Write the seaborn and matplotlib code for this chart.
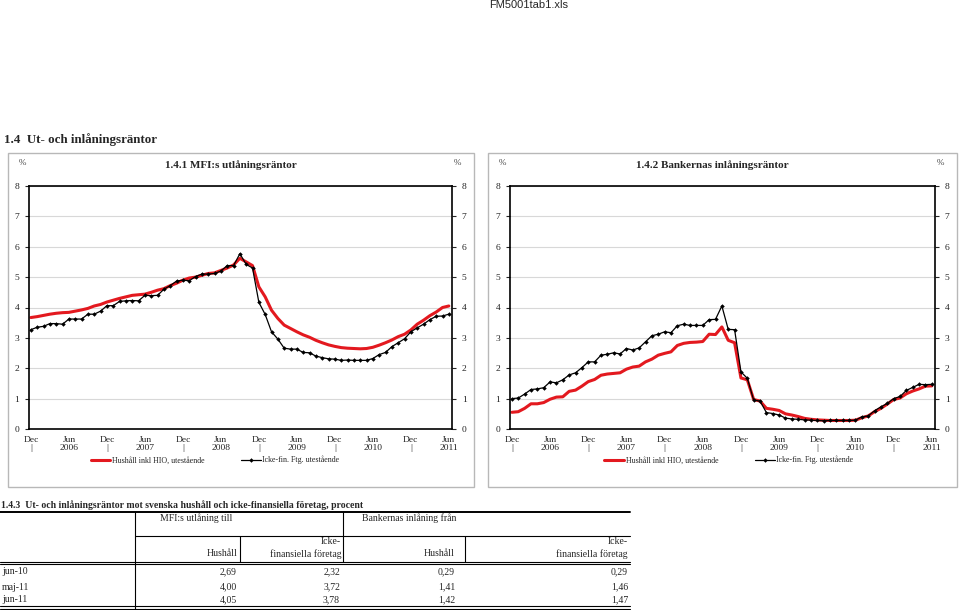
import matplotlib
matplotlib.use("Agg")
import matplotlib.pyplot as plt
import seaborn as sns
import pandas as pd
import numpy as np
from matplotlib.lines import Line2D
from matplotlib.patches import Rectangle

# ---------------- data ----------------
months = pd.date_range("2005-12-01", "2011-06-01", freq="MS")  # 67 months

lend_household = [3.67, 3.70, 3.74, 3.78, 3.81, 3.83, 3.84, 3.88, 3.92, 3.97,
                  4.05, 4.10, 4.18, 4.24, 4.30, 4.35, 4.40, 4.42, 4.44, 4.50,
                  4.57, 4.62, 4.72, 4.80, 4.90, 4.97, 5.00, 5.06, 5.12, 5.14,
                  5.22, 5.30, 5.40, 5.62, 5.50, 5.38, 4.68, 4.35, 3.91, 3.64,
                  3.42, 3.31, 3.20, 3.10, 3.02, 2.92, 2.84, 2.77, 2.72, 2.68,
                  2.66, 2.65, 2.64, 2.65, 2.69, 2.76, 2.84, 2.93, 3.04, 3.12,
                  3.26, 3.45, 3.58, 3.73, 3.85, 4.00, 4.05]
lend_firms = [3.27, 3.35, 3.38, 3.47, 3.47, 3.45, 3.62, 3.62, 3.62, 3.78,
              3.78, 3.88, 4.06, 4.06, 4.20, 4.22, 4.23, 4.22, 4.40, 4.39,
              4.40, 4.60, 4.72, 4.87, 4.90, 4.88, 5.02, 5.10, 5.10, 5.12,
              5.20, 5.38, 5.38, 5.77, 5.42, 5.30, 4.17, 3.77, 3.20, 2.96,
              2.66, 2.63, 2.63, 2.52, 2.51, 2.40, 2.35, 2.31, 2.30, 2.26,
              2.27, 2.26, 2.26, 2.26, 2.32, 2.45, 2.52, 2.71, 2.84, 2.97,
              3.20, 3.33, 3.45, 3.60, 3.71, 3.72, 3.78]
dep_household = [0.55, 0.57, 0.68, 0.83, 0.83, 0.87, 0.98, 1.05, 1.06, 1.24,
                 1.28, 1.41, 1.56, 1.63, 1.77, 1.81, 1.83, 1.85, 1.97, 2.04,
                 2.07, 2.21, 2.30, 2.43, 2.49, 2.54, 2.75, 2.82, 2.85, 2.86,
                 2.88, 3.12, 3.11, 3.36, 2.92, 2.84, 1.68, 1.62, 0.97, 0.92,
                 0.68, 0.65, 0.61, 0.50, 0.46, 0.41, 0.35, 0.32, 0.30, 0.29,
                 0.28, 0.28, 0.28, 0.28, 0.29, 0.37, 0.43, 0.57, 0.68, 0.82,
                 0.97, 1.02, 1.16, 1.25, 1.32, 1.41, 1.42]
dep_firms = [1.00, 1.02, 1.15, 1.30, 1.32, 1.36, 1.55, 1.52, 1.62, 1.78,
             1.85, 2.02, 2.21, 2.21, 2.43, 2.46, 2.51, 2.47, 2.65, 2.60,
             2.67, 2.87, 3.07, 3.12, 3.20, 3.17, 3.40, 3.45, 3.41, 3.41,
             3.41, 3.60, 3.61, 4.05, 3.28, 3.27, 1.88, 1.67, 0.95, 0.92,
             0.54, 0.51, 0.46, 0.36, 0.33, 0.32, 0.30, 0.29, 0.28, 0.27,
             0.28, 0.28, 0.28, 0.28, 0.29, 0.40, 0.43, 0.60, 0.73, 0.84,
             1.00, 1.07, 1.27, 1.37, 1.47, 1.46, 1.47]

x_tick_labels = ["Dec\n|", "Jun\n2006", "Dec\n|", "Jun\n2007", "Dec\n|", "Jun\n2008",
                 "Dec\n|", "Jun\n2009", "Dec\n|", "Jun\n2010", "Dec\n|", "Jun\n2011"]
y_ticks = [0, 1, 2, 3, 4, 5, 6, 7, 8]

series_red = "Hushåll inkl HIO, utestående"
series_black = "Icke-fin. Ftg. utestående"

table_rows = ["jun-10", "maj-11", "jun-11"]
tab_mfi_hush = ["2,69", "4,00", "4,05"]
tab_mfi_icke = ["2,32", "3,72", "3,78"]
tab_bank_hush = ["0,29", "1,41", "1,42"]
tab_bank_icke = ["0,29", "1,46", "1,47"]

# ---------------- style ----------------
sns.set_style("white")
plt.rcParams['font.family'] = ['Liberation Serif', 'DejaVu Serif']

W, H = 960, 610
fig = plt.figure(figsize=(9.6, 6.1), dpi=100)


def fx(px):
    return px / W


def fy(py):
    return 1 - py / H


RED = "#e3191f"
TXT = "#222222"

idx = np.arange(len(months))


def panel(box, axrect, title, title_x, red, black, legend_cx):
    bx0, by0, bx1, by1 = box
    fig.add_artist(Rectangle((fx(bx0), fy(by1)), (bx1 - bx0) / W, (by1 - by0) / H,
                             transform=fig.transFigure, fill=False,
                             edgecolor="#b8b8b8", lw=1.0))
    ax0, ay0, ax1, ay1 = axrect
    ax = fig.add_axes([fx(ax0), fy(ay1), (ax1 - ax0) / W, (ay1 - ay0) / H])
    df = pd.DataFrame({"idx": idx, series_red: red, series_black: black})
    sns.lineplot(data=df, x="idx", y=series_red, ax=ax, color=RED, linewidth=2.2,
                 label=series_red)
    sns.lineplot(data=df, x="idx", y=series_black, ax=ax, color="black", linewidth=0.9,
                 marker="D", markersize=2.3, markeredgewidth=0, label=series_black)
    ax.set_xlim(-0.3, 66.5)
    ax.set_ylim(0, 8)
    ax.set_yticks(y_ticks)
    ax.set_yticklabels([str(v) for v in y_ticks])
    ax.set_xticks(range(0, 67, 6))
    ax.set_xticklabels(x_tick_labels, linespacing=1.05)
    ax.set_xticks(range(67), minor=True)
    ax.set_xlabel("")
    ax.set_ylabel("")
    ax.grid(axis="y", color="#d8d8d8", lw=0.8)
    ax.tick_params(axis="x", which="both", direction="in", length=2, width=0.6,
                   labelsize=6.8, pad=5, colors="black", labelcolor=TXT)
    ax.tick_params(axis="y", which="major", direction="out", length=3, width=0.8,
                   left=True, right=True, labelleft=True, labelright=True,
                   labelsize=6.8, pad=4, labelcolor=TXT)
    for s in ax.spines.values():
        s.set_color("black")
        s.set_linewidth(1.2)
    leg = ax.legend(loc="center", bbox_to_anchor=(legend_cx, -0.128), ncol=2,
                    frameon=False, fontsize=5.7, handlelength=2.5,
                    handletextpad=0.2, columnspacing=4.6)
    for t in leg.get_texts():
        t.set_color(TXT)
    fig.text(fx(title_x), fy(165), title, ha="center", va="center", fontsize=8,
             fontweight="bold")
    fig.text(fx(bx0 + 14), fy(163), "%", ha="center", va="center", fontsize=6.5,
             color="#444444")
    fig.text(fx(bx1 - 17), fy(163), "%", ha="center", va="center", fontsize=6.5,
             color="#444444")
    return ax


panel((8, 153, 474, 487), (29, 186, 452, 429), "1.4.1 MFI:s utlåningsräntor", 231,
      lend_household, lend_firms, 0.44)
panel((488, 153, 957, 487), (510, 186, 935, 429), "1.4.2 Bankernas inlåningsräntor", 712,
      dep_household, dep_firms, 0.515)

# headings
fig.text(fx(529), fy(5), "FM5001tab1.xls", ha="center", va="center", fontsize=8,
         family=["Liberation Sans", "DejaVu Sans"])
fig.text(fx(4), fy(140), "1.4  Ut- och inlåningsräntor", ha="left", va="center",
         fontsize=9.4, fontweight="bold")

# ---------------- table ----------------
fig.text(fx(1), fy(505), "1.4.3  Ut- och inlåningsräntor mot svenska hushåll och "
         "icke-finansiella företag, procent", ha="left", va="center", fontsize=7,
         fontweight="bold")


def hline(y, x0, x1, lw=0.8):
    fig.add_artist(Line2D([fx(x0), fx(x1)], [fy(y), fy(y)], transform=fig.transFigure,
                          color="black", lw=lw))


def vline(x, y0, y1, lw=0.8):
    fig.add_artist(Line2D([fx(x), fx(x)], [fy(y0), fy(y1)], transform=fig.transFigure,
                          color="black", lw=lw))


hline(511.5, 0, 630, 1.4)
vline(135, 511.5, 609)
vline(343, 511.5, 562)
hline(536, 135, 630)
vline(240, 536, 562)
vline(465, 536, 562)
hline(561.5, 0, 630)
hline(564, 0, 630)
hline(606, 0, 630)
hline(608.5, 0, 630)

tfs = 7
fig.text(fx(160), fy(518), "MFI:s utlåning till", ha="left", va="center", fontsize=tfs)
fig.text(fx(362), fy(518), "Bankernas inlåning från", ha="left", va="center", fontsize=tfs)
fig.text(fx(238), fy(554), "Hushåll", ha="right", va="center", fontsize=tfs)
fig.text(fx(341), fy(541), "Icke-", ha="right", va="center", fontsize=tfs)
fig.text(fx(341), fy(554), "finansiella företag", ha="right", va="center", fontsize=tfs)
fig.text(fx(455), fy(554), "Hushåll", ha="right", va="center", fontsize=tfs)
fig.text(fx(628), fy(541), "Icke-", ha="right", va="center", fontsize=tfs)
fig.text(fx(628), fy(554), "finansiella företag", ha="right", va="center", fontsize=tfs)

row_y = [572, 587, 600]
for r, yy in enumerate(row_y):
    fig.text(fx(2), fy(yy), table_rows[r], ha="left", va="center", fontsize=tfs)
    fig.text(fx(237), fy(yy), tab_mfi_hush[r], ha="right", va="center", fontsize=tfs)
    fig.text(fx(340), fy(yy), tab_mfi_icke[r], ha="right", va="center", fontsize=tfs)
    fig.text(fx(455), fy(yy), tab_bank_hush[r], ha="right", va="center", fontsize=tfs)
    fig.text(fx(628), fy(yy), tab_bank_icke[r], ha="right", va="center", fontsize=tfs)

fig.savefig("out.png", dpi=100)
